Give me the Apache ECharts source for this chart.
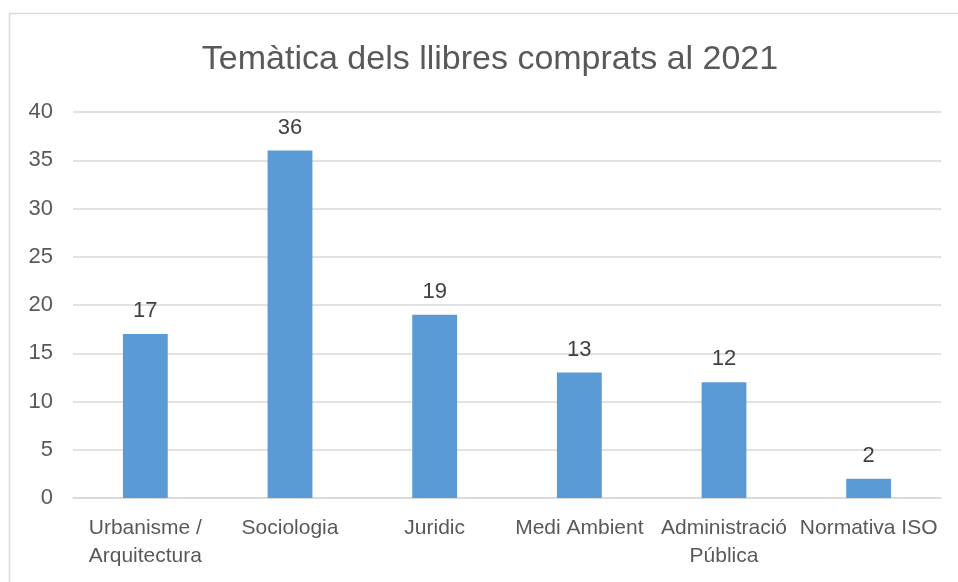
<!DOCTYPE html>
<html>
<head>
<meta charset="utf-8">
<script src="https://cdn.jsdelivr.net/npm/echarts@6/dist/echarts.min.js"></script>
<style>
  html, body { margin: 0; padding: 0; background: #fff; }
  #chart { width: 958px; height: 582px; }
</style>
</head>
<body>
<div id="chart"></div>
<script>
// dades del gràfic
const categories = ['Urbanisme /\nArquitectura', 'Sociologia', 'Juridic', 'Medi Ambient', 'Administració\nPública', 'Normativa ISO']
const values = [17, 36, 19, 13, 12, 2]
const titleText = 'Temàtica dels llibres comprats al 2021'

const font = '"Liberation Sans", Arial, sans-serif'
const chart = echarts.init(document.getElementById('chart'))

chart.setOption({
  backgroundColor: '#fff',
  animation: false,
  title: {
    text: titleText,
    left: 485,
    top: 38,
    textAlign: 'center',
    textStyle: { color: '#595959', fontSize: 34, fontWeight: 'normal', fontFamily: font }
  },
  // marc del gràfic
  graphic: [{
    type: 'rect',
    shape: { x: 9.5, y: 13.5, width: 1200, height: 1200 },
    style: { fill: 'none', stroke: '#d9d9d9', lineWidth: 1.5 },
    silent: true
  }],
  grid: { left: 73, right: 17, top: 112, bottom: 84 },
  xAxis: {
    type: 'category',
    data: categories,
    axisLine: { show: true, lineStyle: { color: '#d9d9d9', width: 1.5 } },
    axisTick: { show: false },
    axisLabel: {
      color: '#595959', fontSize: 21, fontFamily: font,
      lineHeight: 28, margin: 16, interval: 0
    }
  },
  yAxis: {
    type: 'value',
    min: 0,
    max: 40,
    interval: 5,
    axisLine: { show: false },
    axisTick: { show: false },
    axisLabel: { color: '#595959', fontSize: 22, fontFamily: font, margin: 20 },
    splitLine: { lineStyle: { color: '#d9d9d9', width: 1.5 } }
  },
  series: [{
    type: 'bar',
    data: values,
    barWidth: '31%',
    itemStyle: { color: '#5B9BD5' },
    label: {
      show: true,
      position: 'top',
      distance: 12,
      color: '#404040',
      fontSize: 22,
      fontFamily: font
    }
  }]
})
</script>
</body>
</html>
